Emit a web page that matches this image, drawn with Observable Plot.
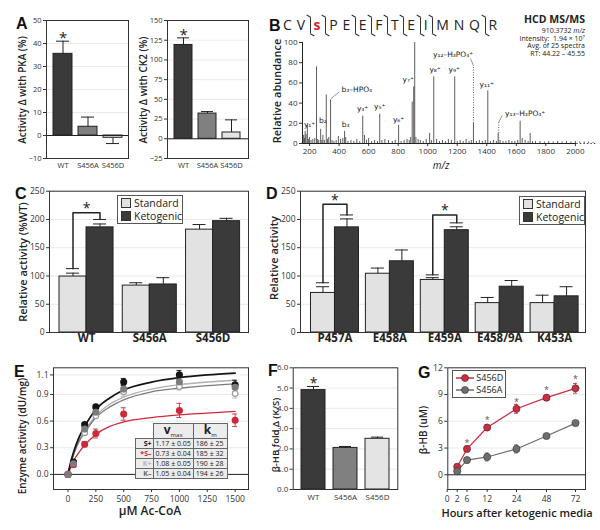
<!DOCTYPE html>
<html><head><meta charset="utf-8">
<script src="https://cdn.jsdelivr.net/npm/d3@7"></script>
<script src="https://cdn.jsdelivr.net/npm/@observablehq/plot@0.6"></script>
<style>
html,body{margin:0;padding:0;background:#fff}
#fig{position:relative;width:600px;height:530px;overflow:hidden;font-family:"Open Sans",sans-serif;color:#222}
#fig > svg{position:absolute;overflow:visible}
.plab{position:absolute;font:bold 16px/1 "Liberation Sans",Arial,sans-serif;color:#111}
.yt{position:absolute;transform:translate(-50%,-50%) rotate(-90deg);white-space:nowrap;font-weight:600;font-size:10px;line-height:1;color:#222}
.xt{position:absolute;transform:translate(-50%,-50%);white-space:nowrap;font-weight:600;font-size:11.5px;line-height:1;color:#222}
.legend{position:absolute;background:#fff;border:1px solid #555;font-size:10.5px;line-height:13px;padding:1px 3px;box-sizing:border-box;white-space:nowrap}
.sw{display:inline-block;width:8px;height:8px;border:1px solid #333;margin-right:3px;vertical-align:-1px}
.seq{position:absolute;left:283px;top:15px;font-size:14px;font-weight:400;white-space:nowrap;line-height:20px;color:#222;letter-spacing:0.6px}
.fr{display:inline-block;position:relative;width:2px;height:15px;border-left:1px solid #333;margin:0 1px 0 4px;vertical-align:-3px}
.fr::before{content:"";position:absolute;left:-5px;top:-1px;width:5px;border-top:1px solid #333;transform:rotate(30deg);transform-origin:right center}
.fr::after{content:"";position:absolute;left:-1px;bottom:-1px;width:5px;border-bottom:1px solid #333;transform:rotate(30deg);transform-origin:left center}
.info{position:absolute;right:15px;top:14px;text-align:right;font-size:7px;color:#222}
.info b{font-size:10.5px;display:block;line-height:11px;margin-bottom:2px}
.info div{line-height:7px;height:7.7px}
#etab{position:absolute;left:135px;top:423px;border-collapse:collapse;font-size:7px;line-height:1;font-family:"Open Sans",sans-serif}
#etab td{border:1px solid #666;background:#ececec;height:9px;padding:0 2px;white-space:nowrap}
#etab td.h{height:14px;text-align:center;font-size:12px;font-weight:bold}
#etab td.h sub{font-size:6px;font-weight:normal}
#etab td.blank{border:none;background:transparent}
#etab td.lab{font-weight:bold;text-align:right;padding:0 1px}
</style></head>
<body>
<div id="fig"></div>
<script>
// ---------- DATA ----------
// Panel A
const aMutants = ["WT", "S456A", "S456D"];
const pkaValues = [35.5, 3.8, -1.0];
const pkaErrors = [5.5, 4.2, 2.5];
const ck2Values = [119, 32, 8];
const ck2Errors = [9, 2.5, 16];
const pkaTicks = [-10, 0, 10, 20, 30, 40, 50];
const ck2Ticks = [-25, 0, 25, 50, 75, 100, 125, 150];

// Panel B: MS/MS spectrum peaks [m/z, relative abundance]
const bPeaks = [[160,8],[165,5],[170,12],[176,9],[185,18],[192,4],[200,6],[210,3],[222,4],[235,5],[247,76],[255,4],[262,3],[275,14],[283,3],[290,8],[300,3],[313,48],[322,4],[330,6],[342,43],[352,3],[365,2],[380,3],[395,7],[410,4],[425,5],[437,12],[445,6],[460,2],[480,3],[500,2],[520,4],[540,2],[560,27],[572,8],[585,3],[600,5],[620,2],[640,3],[660,2],[675,29],[690,3],[710,4],[735,3],[760,2],[780,3],[803,18],[820,2],[840,3],[860,4],[875,3],[885,6],[895,41],[905,56],[912,100],[920,6],[935,4],[950,3],[970,2],[990,4],[1013,10],[1025,3],[1041,66],[1060,4],[1080,2],[1100,3],[1120,2],[1140,4],[1160,3],[1183,66],[1200,2],[1220,3],[1240,2],[1260,4],[1280,2],[1295,3],[1310,20],[1330,2],[1350,3],[1370,2],[1390,3],[1407,52],[1425,2],[1445,3],[1465,2],[1477,10],[1490,3],[1510,2],[1530,2],[1550,3],[1570,2],[1590,2],[1610,3],[1626,22],[1640,5],[1660,3],[1680,2],[1694,10],[1710,2],[1730,2],[1760,2],[1790,1.5],[1820,2],[1850,1.5],[1880,2],[1910,1.5],[1940,2],[1970,1.5],[2000,2],[2030,1.5],[2060,1.5],[2090,1.5],[2120,1]];
const bLabels = ["y₁⁺","b₂","b₃–HPO₄","b₃","y₄⁺","y₅⁺","y₆⁺","y₇⁺","y₈⁺","y₉⁺","y₁₂–H₃PO₄⁺","y₁₁⁺","y₁₃–H₃PO₄⁺"];
const bLabelMz = [200, 290, 520, 444, 559, 675, 803, 868, 1050, 1180, 1172, 1400, 1660];
const bLabelInt = [19, 23, 53, 19, 35, 37, 24, 63, 73, 73, 88, 58, 30];
const bLeaders = [[342,44,400,51],[1290,84,1310,77],[1505,28,1481,21]];
const bDotted = [[1310,77],[1481,21]];
const bDomain = [152, 2150];
const bTicks = [200,400,600,800,1000,1200,1400,1600,1800,2000];

// Panel C
const cGroups = ["WT", "S456A", "S456D"];
const cStandard = [99, 83, 182];
const cStandardErr = [6, 5, 9];
const cKeto = [186, 85, 197];
const cKetoErr = [6, 12, 5];
const cSig = [{group: "WT", footStd: 113, footKeto: 200, top: 212}];

// Panel D
const dGroups = ["P457A", "E458A", "E459A", "E458/9A", "K453A"];
const dStandard = [70, 104, 93, 52, 52];
const dStandardErr = [11, 10, 4, 10, 14];
const dKeto = [186, 126, 181, 81, 64];
const dKetoErr = [15, 20, 6, 11, 17];
const dSig = [{group: "P457A", footStd: 88, footKeto: 208, top: 227}, {group: "E459A", footStd: 102, footKeto: 194, top: 208}];
const cdTicks = [0, 50, 100, 150, 200, 250];

// Panel E
const eSeries = ["S+", "S–", "K+", "K–"];
const eConc = [0, 50, 150, 250, 500, 1000, 1500];
const eSPlus = [0, 0.14, 0.56, 0.76, 1.04, 1.12, 1.01];
const eSPlusErr = [0, 0.02, 0.02, 0.02, 0.04, 0.05, 0.05];
const eSMinus = [0, 0.11, 0.34, 0.46, 0.68, 0.72, 0.61];
const eSMinusErr = [0, 0.02, 0.03, 0.05, 0.07, 0.08, 0.07];
const eKPlus = [0, 0.13, 0.47, 0.66, 0.93, 0.99, 0.91];
const eKPlusErr = [0, 0.02, 0.03, 0.03, 0.05, 0.04, 0.05];
const eKMinus = [0, 0.12, 0.51, 0.70, 0.96, 1.04, 0.98];
const eKMinusErr = [0, 0.02, 0.03, 0.03, 0.05, 0.05, 0.05];
const eCurveConc = [0, 25, 50, 100, 150, 250, 375, 500, 750, 1000, 1250, 1500];
const eCurveSPlus = [0, 0.14, 0.25, 0.42, 0.54, 0.73, 0.86, 0.95, 1.04, 1.09, 1.12, 1.14];
const eCurveSMinus = [0, 0.08, 0.15, 0.25, 0.33, 0.45, 0.54, 0.59, 0.64, 0.67, 0.69, 0.71];
const eCurveKPlus = [0, 0.13, 0.23, 0.38, 0.49, 0.66, 0.79, 0.87, 0.96, 1.01, 1.04, 1.06];
const eCurveKMinus = [0, 0.12, 0.22, 0.37, 0.47, 0.64, 0.76, 0.84, 0.93, 0.97, 1.00, 1.02];
const eXTicks = [0, 250, 500, 750, 1000, 1250, 1500];
const eYTicks = [0, 0.3, 0.6, 0.9, 1.12];
const eTableLabels = ["S+", "*S–", "K+", "K–"];
const eVmax = ["1.17 ± 0.05", "0.73 ± 0.04", "1.08 ± 0.05", "1.05 ± 0.04"];
const eKm = ["186 ± 25", "185 ± 32", "190 ± 28", "194 ± 26"];

// Panel F
const fGroups = ["WT", "S456A", "S456D"];
const fValues = [4.9, 2.05, 2.5];
const fErrors = [0.18, 0.07, 0.08];
const fTicks = [0, 1, 2, 3, 4, 5, 6];

// Panel G
const gHours = [2, 6, 12, 24, 48, 72];
const gS456D = [0.9, 2.9, 5.3, 7.4, 8.65, 9.7];
const gS456DErr = [0.3, 0.3, 0.3, 0.5, 0.25, 0.55];
const gS456A = [0.4, 1.65, 2.0, 2.9, 4.35, 5.8];
const gS456AErr = [0.3, 0.25, 0.45, 0.45, 0.25, 0.2];
const gStarHours = [6, 12, 24, 48, 72];
const gStarY = [3.6, 6.1, 8.2, 9.5, 10.7];
const gXTicks = [0, 2, 6, 12, 24, 48, 72];
const gYTicks = [0, 3, 6, 9, 12];

// ---------- HELPERS ----------
const fig = document.getElementById("fig");
const baseStyle = {fontFamily: '"Open Sans", sans-serif', fontSize: "8px", color: "#333", background: "transparent", overflow: "visible"};
const plain = d => String(d);
function mount(el, left, top) { el.style.position = "absolute"; el.style.left = left + "px"; el.style.top = top + "px"; fig.appendChild(el); return el; }
function html(tag, cls, text, left, top, extra) {
  const e = document.createElement(tag); if (cls) e.className = cls; if (text != null) e.innerHTML = text;
  e.style.left = left + "px"; e.style.top = top + "px"; if (extra) Object.assign(e.style, extra); fig.appendChild(e); return e;
}
const mutantFill = ["#3a3a3a", "#808080", "#e4e4e4"];

// ---------- PANEL A ----------
function aPanel(values, errors, yDomain, yTicks, width, ml) {
  const data = aMutants.map((m, i) => ({m, v: values[i], end: values[i] + (values[i] < 0 ? -errors[i] : errors[i])}));
  return Plot.plot({
    width, height: 175, marginLeft: ml, marginRight: 5, marginTop: 20, marginBottom: 17,
    style: {...baseStyle, fontSize: "7.5px"},
    x: {domain: aMutants, paddingInner: 0.24, paddingOuter: 0.26, label: null, tickSize: 0, tickPadding: 4},
    y: {domain: yDomain, ticks: yTicks, label: null, tickSize: 3, tickPadding: 2, grid: true},
    color: {domain: aMutants, range: mutantFill},
    marks: [
      Plot.barY(data, {x: "m", y: "v", fill: "m", stroke: "#222", strokeWidth: 1}),
      Plot.ruleX(data, {x: "m", y1: "v", y2: "end", stroke: "#222"}),
      Plot.tickY(data, {x: "m", y: "end", stroke: "#222", insetLeft: 3, insetRight: 3}),
      Plot.ruleY([0], {stroke: "#222"}),
      Plot.text(data.filter(d => d.m === "WT"), {x: "m", y: "end", text: () => "*", fontSize: 15, dy: -3, fill: "#222"}),
      Plot.frame({stroke: "#333"})
    ]
  });
}
mount(aPanel(pkaValues, pkaErrors, [-10, 50], pkaTicks, 133, 46), 0, 0);
mount(aPanel(ck2Values, ck2Errors, [-25, 150], ck2Ticks, 125, 39), 128, 0);

// ---------- PANEL B ----------
const peaks = bPeaks.map(([mz, v]) => ({mz, v}));
const bLab = bLabels.map((t, i) => ({t, mz: bLabelMz[i], v: bLabelInt[i]}));
const leaders = bLeaders.map(([x1, y1, x2, y2]) => ({x1, y1, x2, y2}));
const dotted = bDotted.map(([mz, top]) => ({mz, top}));
mount(Plot.plot({
  width: 350, height: 145, marginLeft: 52, marginRight: 3, marginTop: 12, marginBottom: 32,
  style: {...baseStyle, fontSize: "8px"},
  x: {domain: bDomain, ticks: bTicks, tickFormat: plain, label: null, tickSize: 3, tickPadding: 2},
  y: {domain: [0, 100], ticks: [0, 20, 40, 60, 80, 100], label: null, tickSize: 3, tickPadding: 2},
  marks: [
    Plot.ruleX(peaks, {x: "mz", y1: 0, y2: "v", stroke: "#333", strokeWidth: 0.8}),
    Plot.ruleX(dotted, {x: "mz", y1: 0, y2: "top", stroke: "#666", strokeDasharray: "1,1.5"}),
    Plot.link(leaders, {x1: "x1", y1: "y1", x2: "x2", y2: "y2", stroke: "#666", strokeWidth: 0.7}),
    Plot.ruleY([0], {x1: bDomain[0], x2: 2010, stroke: "#222"}),
    Plot.ruleY([0], {x1: 2010, x2: bDomain[1], stroke: "#444", strokeDasharray: "1.5,2"}),
    Plot.ruleX([bDomain[0]], {y1: 0, y2: 100, stroke: "#222"}),
    Plot.text(bLab, {x: "mz", y: "v", text: "t", fontSize: 7.5, fontFamily: "DejaVu Sans", fill: "#222"})
  ]
}), 250, 30);

// ---------- PANELS C & D ----------
function groupedPanel(groups, std, stdErr, keto, ketoErr, sig, o) {
  const half = o.half;
  const rows = groups.flatMap((g, i) => [
    {diet: "Standard", v: std[i], e: stdErr[i], x1: i - half, x2: i, c: i - half / 2},
    {diet: "Ketogenic", v: keto[i], e: ketoErr[i], x1: i, x2: i + half, c: i + half / 2}]);
  const brackets = sig.flatMap((s, k) => { const i = groups.indexOf(s.group); return [
    {k, x: i - half / 2, y: s.footStd}, {k, x: i - half / 2, y: s.top}, {k, x: i + half / 2, y: s.top}, {k, x: i + half / 2, y: s.footKeto}]; });
  const feet = sig.flatMap(s => { const i = groups.indexOf(s.group); return [{c: i - half / 2, y: s.footStd}, {c: i + half / 2, y: s.footKeto}]; });
  const stars = sig.map(s => ({x: groups.indexOf(s.group), y: s.top}));
  return Plot.plot({
    width: o.width, height: 170, marginLeft: o.ml, marginRight: o.mr, marginTop: 10.7, marginBottom: 18,
    style: {...baseStyle, fontSize: "8.5px"},
    x: {domain: o.xDomain, axis: null},
    y: {domain: [0, 250], ticks: cdTicks, label: null, tickSize: 3, tickPadding: 2, grid: true},
    color: {domain: ["Standard", "Ketogenic"], range: ["#e2e2e2", "#3a3a3a"]},
    marks: [
      Plot.rect(rows, {x1: "x1", x2: "x2", y1: 0, y2: "v", fill: "diet", stroke: "#222", strokeWidth: 1}),
      Plot.ruleX(rows, {x: "c", y1: "v", y2: d => d.v + d.e, stroke: "#222"}),
      Plot.ruleY(rows, {y: d => d.v + d.e, x1: "c", x2: "c", insetLeft: -6.5, insetRight: -6.5, stroke: "#222"}),
      Plot.ruleY(feet, {y: "y", x1: "c", x2: "c", insetLeft: -6.5, insetRight: -6.5, stroke: "#222"}),
      Plot.line(brackets, {x: "x", y: "y", z: "k", stroke: "#222"}),
      Plot.text(stars, {x: "x", y: "y", text: () => "*", fontSize: 14, dy: -4, fill: "#222"}),
      Plot.text(groups.map((g, i) => ({g, i})), {x: "i", text: "g", frameAnchor: "bottom", dy: 9, fontSize: 11.5, fontWeight: "bold", fill: "#222"}),
      Plot.frame({stroke: "#333"})
    ]
  });
}
mount(groupedPanel(cGroups, cStandard, cStandardErr, cKeto, cKetoErr, cSig, {half: 0.427, xDomain: [-0.585, 2.56], width: 255, ml: 49, mr: 7}), 0, 180);
mount(groupedPanel(dGroups, dStandard, dStandardErr, dKeto, dKetoErr, dSig, {half: 0.437, xDomain: [-0.628, 4.563], width: 330, ml: 38, mr: 7}), 262, 180);

// ---------- PANEL E ----------
const eVals = [eSPlus, eSMinus, eKPlus, eKMinus];
const eErrs = [eSPlusErr, eSMinusErr, eKPlusErr, eKMinusErr];
const eCurves = [eCurveSPlus, eCurveSMinus, eCurveKPlus, eCurveKMinus];
const ePts = eSeries.flatMap((s, k) => eConc.map((c, j) => ({s, c, v: eVals[k][j], e: eErrs[k][j]})));
const eCurve = eSeries.flatMap((s, k) => eCurveConc.map((c, j) => ({s, c, v: eCurves[k][j]})));
const eColors = ["#151515", "#cc2a3c", "#b0b0b0", "#7c7c7c"];
const errPts = ePts.filter(d => d.e > 0);
mount(Plot.plot({
  width: 255, height: 150, marginLeft: 53, marginRight: 7, marginTop: 7.3, marginBottom: 21,
  style: {...baseStyle, fontSize: "8.5px"},
  x: {domain: [-130, 1620], ticks: eXTicks, tickFormat: plain, label: null, tickSize: 3, tickPadding: 3},
  y: {domain: [-0.17, 1.2], ticks: eYTicks, label: null, tickSize: 3, tickPadding: 2, grid: true},
  color: {domain: eSeries, range: eColors},
  marks: [
    Plot.ruleY([0], {stroke: "#222"}),
    Plot.line(eCurve.filter(d => d.s === "K–" || d.s === "K+"), {x: "c", y: "v", z: "s", stroke: "s", strokeWidth: 1.3, curve: "monotone-x"}),
    Plot.line(eCurve.filter(d => d.s === "S–"), {x: "c", y: "v", stroke: "s", strokeWidth: 1.3, curve: "monotone-x"}),
    Plot.line(eCurve.filter(d => d.s === "S+"), {x: "c", y: "v", stroke: "s", strokeWidth: 1.8, curve: "monotone-x"}),
    Plot.ruleX(errPts, {x: "c", y1: d => d.v - d.e, y2: d => d.v + d.e, stroke: "s", strokeWidth: 0.9}),
    Plot.ruleY(errPts, {y: d => d.v + d.e, x1: "c", x2: "c", insetLeft: -2.5, insetRight: -2.5, stroke: "s", strokeWidth: 0.9}),
    Plot.ruleY(errPts, {y: d => d.v - d.e, x1: "c", x2: "c", insetLeft: -2.5, insetRight: -2.5, stroke: "s", strokeWidth: 0.9}),
    Plot.dot(ePts.filter(d => d.s === "K+"), {x: "c", y: "v", r: 2.8, fill: "white", stroke: "#9a9a9a", strokeWidth: 1.2}),
    Plot.dot(ePts.filter(d => d.s !== "K+"), {x: "c", y: "v", r: 2.8, fill: "s", stroke: "s"}),
    Plot.frame({stroke: "#333"})
  ]
}), 0, 360);

// E table
const tab = document.createElement("table"); tab.id = "etab";
const labColors = ["#111", "#cc2a3c", "#b5b5b5", "#666"];
let th = '<tr><td class="blank" style="width:13px"></td><td class="h" style="width:33px">v<sub>max</sub></td><td class="h" style="width:29px">k<sub>m</sub></td></tr>';
eTableLabels.forEach((l, i) => { th += `<tr><td class="lab" style="color:${labColors[i]}">${l}</td><td>${eVmax[i]}</td><td>${eKm[i]}</td></tr>`; });
tab.innerHTML = th; fig.appendChild(tab);

// ---------- PANEL F ----------
const fData = fGroups.map((g, i) => ({g, v: fValues[i], end: fValues[i] + fErrors[i]}));
mount(Plot.plot({
  width: 137, height: 150, marginLeft: 27.7, marginRight: 4.7, marginTop: 7.3, marginBottom: 21,
  style: {...baseStyle, fontSize: "8px"},
  x: {domain: fGroups, paddingInner: 0.25, paddingOuter: 0.254, label: null, tickSize: 0, tickPadding: 5},
  y: {domain: [0, 6], ticks: fTicks, label: null, tickSize: 3, tickPadding: 2, grid: true},
  color: {domain: fGroups, range: mutantFill},
  marks: [
    Plot.barY(fData, {x: "g", y: "v", fill: "g", stroke: "#222", strokeWidth: 1}),
    Plot.ruleX(fData, {x: "g", y1: "v", y2: "end", stroke: "#222"}),
    Plot.tickY(fData, {x: "g", y: "end", stroke: "#222", insetLeft: 6, insetRight: 6}),
    Plot.text(fData.filter(d => d.g === "WT"), {x: "g", y: "end", text: () => "*", fontSize: 14, dy: -3, fill: "#222"}),
    Plot.frame({stroke: "#333"})
  ]
}), 265, 360);

// ---------- PANEL G ----------
const gData = [
  ...gHours.map((t, i) => ({s: "S456D", t, v: gS456D[i], e: gS456DErr[i]})),
  ...gHours.map((t, i) => ({s: "S456A", t, v: gS456A[i], e: gS456AErr[i]}))];
const gStars = gStarHours.map((t, i) => ({t, y: gStarY[i]}));
mount(Plot.plot({
  width: 195, height: 150, marginLeft: 47.3, marginRight: 10, marginTop: 7.3, marginBottom: 21,
  style: {...baseStyle, fontSize: "8.5px"},
  x: {type: "linear", domain: gXTicks, range: [46.7, 56.7, 66.5, 86.7, 116, 146, 175], ticks: gXTicks, tickFormat: plain, label: null, tickSize: 3, tickPadding: 3},
  y: {domain: [-1.65, 12], ticks: gYTicks, label: null, tickSize: 3, tickPadding: 2, grid: true},
  color: {domain: ["S456D", "S456A"], range: ["#cf2a40", "#6e6e6e"]},
  marks: [
    Plot.ruleY([0], {stroke: "#222"}),
    Plot.ruleX(gData, {x: "t", y1: d => d.v - d.e, y2: d => d.v + d.e, stroke: "s", strokeWidth: 0.9}),
    Plot.ruleY(gData, {y: d => d.v + d.e, x1: "t", x2: "t", insetLeft: -2, insetRight: -2, stroke: "s", strokeWidth: 0.9}),
    Plot.ruleY(gData, {y: d => d.v - d.e, x1: "t", x2: "t", insetLeft: -2, insetRight: -2, stroke: "s", strokeWidth: 0.9}),
    Plot.line(gData, {x: "t", y: "v", z: "s", stroke: "s", strokeWidth: 1.2}),
    Plot.dot(gData, {x: "t", y: "v", r: 3.6, fill: "s", stroke: "#333", strokeWidth: 0.6}),
    Plot.text(gStars, {x: "t", y: "y", text: () => "*", fontSize: 9, fill: "#555"}),
    Plot.frame({stroke: "#333"})
  ]
}), 400, 360);

// ---------- HTML TEXT, LEGENDS ----------
[["A",16,16],["B",269,18],["C",15,186],["D",266,186],["E",14,364],["F",268,363],["G",418,365]].forEach(([t,x,y]) => html("div","plab",t,x,y));
html("div","yt","Activity Δ with PKA (%)",22,90);
html("div","yt","Activity Δ with CK2 (%)",143,90);
html("div","yt","Relative abundance",276,91,{fontSize:"11px"});
html("div","xt","<i>m/z</i>",441,165,{fontSize:"10px",fontWeight:"400"});
html("div","yt","Relative activity (%WT)",22,262,{fontSize:"11px"});
html("div","yt","Relative activity",273,258,{fontSize:"11px"});
html("div","yt","Enzyme activity (dU/mg)",22,436);
html("div","xt","μM Ac-CoA",150,511,{fontSize:"12px"});
html("div","yt","β-HB fold Δ (K/S)",276,435,{fontSize:"9.5px"});
html("div","yt","β-HB (uM)",423,430);
html("div","xt","Hours after ketogenic media",517,512,{fontSize:"11px"});

// peptide sequence with fragmentation marks
html("div","seq",'C V<span class="fr"></span><b style="color:#d0282e">s</b><span class="fr"></span>P E<span class="fr"></span>E<span class="fr"></span>F<span class="fr"></span>T<span class="fr"></span>E<span class="fr"></span>I<span class="fr"></span>M N Q<span class="fr"></span>R',283,15);
const info = html("div","info",'<b>HCD MS/MS</b><div>910.3732 <i>m/z</i></div><div>Intensity:&nbsp; 1.94 × 10⁷</div><div>Avg. of 25 spectra</div><div>RT: 44.22 – 45.55</div>',0,14);
info.style.left = "auto";

function legendCD(left, top) {
  html("div","legend",'<div><span class="sw" style="background:#e2e2e2"></span>Standard</div><div><span class="sw" style="background:#3a3a3a"></span>Ketogenic</div>',left,top,{width:"66px",height:"29px"});
}
legendCD(117, 195);
legendCD(519, 196);
html("div","legend",
 '<div><svg width="18" height="8" style="position:static;vertical-align:-1px"><line x1="0" y1="4" x2="18" y2="4" stroke="#cf2a40" stroke-width="1.5"/><circle cx="9" cy="4" r="3.5" fill="#cf2a40" stroke="#333" stroke-width="0.6"/></svg> S456D</div>' +
 '<div><svg width="18" height="8" style="position:static;vertical-align:-1px"><line x1="0" y1="4" x2="18" y2="4" stroke="#6e6e6e" stroke-width="1.5"/><circle cx="9" cy="4" r="3.5" fill="#6e6e6e" stroke="#333" stroke-width="0.6"/></svg> S456A</div>',
 452,370,{width:"54px",height:"28px",fontSize:"9px",lineHeight:"12px",padding:"1px 3px"});
</script>
</body></html>
